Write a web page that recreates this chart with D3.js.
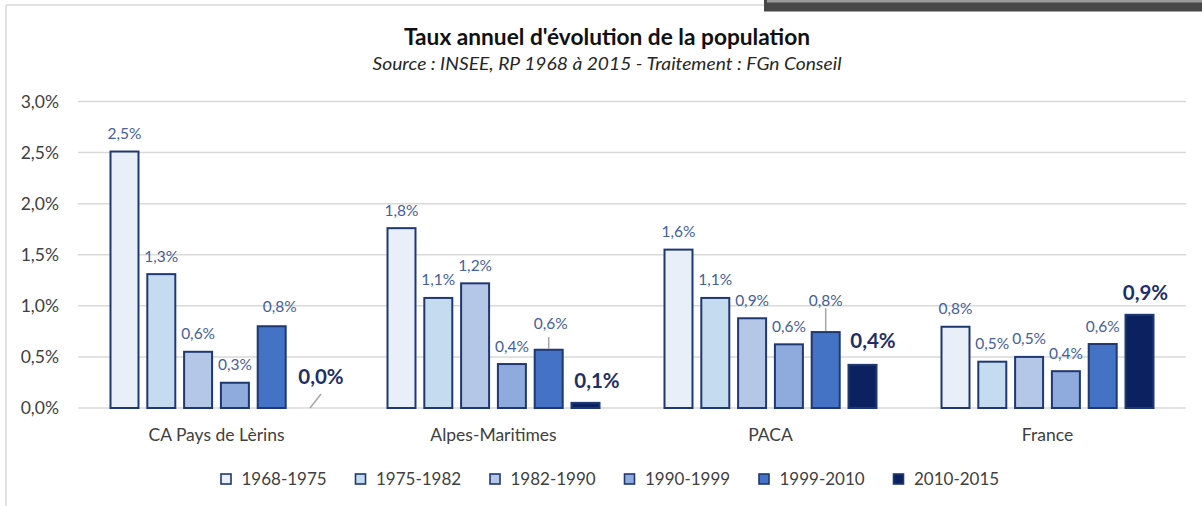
<!DOCTYPE html>
<html>
<head>
<meta charset="utf-8">
<script src="https://cdn.jsdelivr.net/npm/d3@7"></script>
<style>
  html, body { margin: 0; padding: 0; background: #fff; }
  svg { display: block; }
  text { font-family: Lato, "Open Sans", sans-serif; }
</style>
</head>
<body>
<svg id="chart" width="1202" height="506"></svg>
<script>
// ---- DATA ----
const categories = ["CA Pays de Lèrins", "Alpes-Maritimes", "PACA", "France"];
const periods = ["1968-1975", "1975-1982", "1982-1990", "1990-1999", "1999-2010", "2010-2015"];
const s1968_1975 = [2.52, 1.77, 1.56, 0.805];
const s1975_1982 = [1.32, 1.087, 1.087, 0.463];
const s1982_1990 = [0.56, 1.23, 0.888, 0.51];
const s1990_1999 = [0.257, 0.44, 0.633, 0.37];
const s1999_2010 = [0.81, 0.58, 0.753, 0.636];
const s2010_2015 = [0.0, 0.06, 0.432, 0.922];
const yTicks = [0, 0.5, 1.0, 1.5, 2.0, 2.5, 3.0];
const title = "Taux annuel d'évolution de la population";
const subtitle = "Source : INSEE, RP 1968 à 2015 - Traitement : FGn Conseil";

const seriesValues = [s1968_1975, s1975_1982, s1982_1990, s1990_1999, s1999_2010, s2010_2015];

// ---- STYLE / LAYOUT ----
const fills = ["#E9EFF9", "#C5DCF0", "#B4C7E7", "#8FAADC", "#4472C4", "#0C2260"];
const barStroke = "#1F3872";
const labelColor = "#44609A";
const boldLabelColor = "#1F2F66";
const axisText = "#404040";

// manual label nudges (dx: horizontal shift, gap: baseline distance above bar top)
const nudges = {
  "0-4": { dx: 8, gap: 13 },
  "0-5": { dx: 12.5, gap: 24, leader: "slant" },
  "1-4": { dx: 2, gap: 19.7, leader: "vert" },
  "1-5": { dx: 11.5, gap: 13.7 },
  "2-4": { dx: 0, gap: 25, leader: "vert" },
  "2-5": { dx: 10.5, gap: 16 },
  "3-5": { dx: 6, gap: 14 }
};

const svg = d3.select("#chart");

// frame and the dark window edge at top-right
svg.append("line").attr("x1", 6).attr("y1", 5).attr("x2", 764).attr("y2", 5)
  .attr("stroke", "#D9D9D9").attr("stroke-width", 1.5);
svg.append("line").attr("x1", 6).attr("y1", 5).attr("x2", 6).attr("y2", 506)
  .attr("stroke", "#D9D9D9").attr("stroke-width", 1.5);
svg.append("rect").attr("x", 764).attr("y", 0).attr("width", 438).attr("height", 11.5).attr("fill", "#474747");
svg.append("rect").attr("x", 767).attr("y", 0).attr("width", 435).attr("height", 2.5).attr("fill", "#9A9A9A");

// title
svg.append("text").attr("x", 607).attr("y", 45).attr("text-anchor", "middle")
  .attr("font-size", 22).attr("font-weight", "bold").attr("fill", "#111")
  .attr("textLength", 406).attr("lengthAdjust", "spacingAndGlyphs").text(title);
svg.append("text").attr("x", 607).attr("y", 70).attr("text-anchor", "middle")
  .attr("font-size", 17.5).attr("font-style", "italic").attr("fill", "#262626")
  .attr("textLength", 469).attr("lengthAdjust", "spacingAndGlyphs").text(subtitle);

// scales
const x0 = d3.scaleBand().domain(categories).range([78, 1186]).paddingInner(0).paddingOuter(0);
const x1 = d3.scaleBand().domain(periods).range([0, x0.bandwidth()]).paddingInner(0.185).paddingOuter(0.856);
const y = d3.scaleLinear().domain([0, 3]).range([408, 101.5]);

// gridlines
svg.append("g").selectAll("line").data(yTicks).join("line")
  .attr("x1", 78).attr("x2", 1186)
  .attr("y1", d => y(d)).attr("y2", d => y(d))
  .attr("stroke", "#D9D9D9").attr("stroke-width", 1.5);

// y axis
const yAxis = d3.axisLeft(y).tickValues(yTicks).tickSize(0).tickPadding(0)
  .tickFormat(d => d.toFixed(1).replace(".", ",") + "%");
const gy = svg.append("g").attr("transform", "translate(59,0)").call(yAxis);
gy.select(".domain").remove();
gy.selectAll("text").attr("font-size", 17.5).attr("fill", axisText)
  .attr("font-family", "Lato, 'Open Sans', sans-serif").attr("dy", "0.34em");

// x axis labels
const xAxis = d3.axisBottom(x0).tickSize(0).tickPadding(0);
const gx = svg.append("g").attr("transform", "translate(0,441)").call(xAxis);
gx.select(".domain").remove();
gx.selectAll("text").attr("font-size", 17.5).attr("fill", axisText)
  .attr("font-family", "Lato, 'Open Sans', sans-serif").attr("dy", 0);

// bars
const flat = [];
categories.forEach((c, ci) => {
  periods.forEach((p, si) => {
    flat.push({ c, ci, p, si, v: seriesValues[si][ci] });
  });
});

const bars = svg.append("g");
bars.selectAll("rect").data(flat.filter(d => d.v > 0)).join("rect")
  .attr("x", d => x0(d.c) + x1(d.p) + 1)
  .attr("width", x1.bandwidth() - 2)
  .attr("y", d => y(d.v) + 1)
  .attr("height", d => Math.max(0, y(0) - y(d.v) - 1))
  .attr("fill", d => fills[d.si])
  .attr("stroke", barStroke).attr("stroke-width", 2);

// labels
const fmt = v => v.toFixed(1).replace(".", ",") + "%";
const lg = svg.append("g");
flat.forEach(d => {
  const cx = x0(d.c) + x1(d.p) + x1.bandwidth() / 2;
  const top = y(d.v);
  const bold = d.si === 5;
  const n = nudges[d.ci + "-" + d.si] || {};
  const dx = n.dx || 0;
  const gap = n.gap !== undefined ? n.gap : (bold ? 14 : 11.5);
  const base = top - gap;
  lg.append("text").attr("x", cx + dx).attr("y", base).attr("text-anchor", "middle")
    .attr("font-size", bold ? 20.5 : 15.5).attr("font-weight", bold ? "bold" : "normal")
    .attr("fill", bold ? boldLabelColor : labelColor).text(fmt(d.v));
  if (n.leader === "slant") {
    lg.append("line").attr("x1", cx + dx).attr("y1", base + 10).attr("x2", cx + 1.5).attr("y2", top)
      .attr("stroke", "#A6A6A6").attr("stroke-width", 1.5);
  } else if (n.leader === "vert") {
    lg.append("line").attr("x1", cx).attr("y1", base + (gap > 22 ? 2 : 8)).attr("x2", cx).attr("y2", top)
      .attr("stroke", "#A6A6A6").attr("stroke-width", 1.5);
  }
});

// legend
const lx = d3.scalePoint().domain(periods).range([220, 892.5]);
const leg = svg.append("g");
periods.forEach((p, i) => {
  leg.append("rect").attr("x", lx(p) + 1).attr("y", 474).attr("width", 10).attr("height", 10)
    .attr("fill", fills[i]).attr("stroke", barStroke).attr("stroke-width", 1.6);
  leg.append("text").attr("x", lx(p) + 21.5).attr("y", 484.5).attr("font-size", 17)
    .attr("fill", axisText).text(p);
});
</script>
</body>
</html>
